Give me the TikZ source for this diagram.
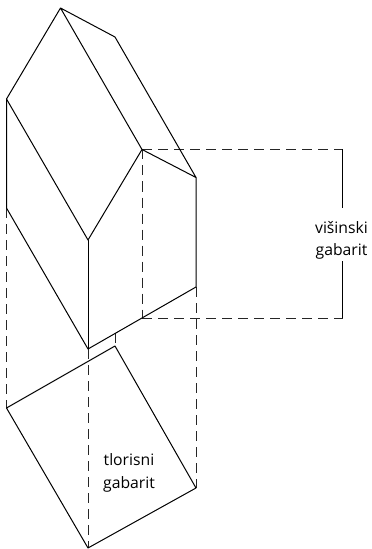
\documentclass[tikz,border=0pt]{standalone}
\usepackage{fontspec}
\setmainfont{Open Sans}
\tikzset{
  solidline/.style={draw=black,line width=1bp,line join=round},
  guide/.style={draw=black!85,line width=0.85bp,dash pattern=on 10bp off 6bp},
  labeltext/.style={align=center,font=\fontsize{15.8}{22.5}\selectfont,inner sep=0pt,text=black}
}
\begin{document}
\begin{tikzpicture}[x=1bp,y=-1bp]
\useasboundingbox (0,0) rectangle (371,549);
\coordinate (A) at (60.5,8);
\coordinate (B) at (115,37);
\coordinate (C) at (6.5,99);
\coordinate (D) at (142,149.5);
\coordinate (E) at (196,177.5);
\coordinate (F) at (88,240);
\coordinate (G) at (6.5,208);
\coordinate (H) at (88,349);
\coordinate (I) at (196,287);
\coordinate (J) at (142,318);
\coordinate (K) at (115,333);
\coordinate (P1) at (6.5,408);
\coordinate (P2) at (115,346);
\coordinate (P3) at (196,488);
\coordinate (P4) at (88,548);
\coordinate (R1) at (342.5,149.5);
\coordinate (R2) at (342.5,208);
\coordinate (R3) at (342.5,261);
\coordinate (R4) at (342.5,318);
% guides
\draw[guide] (G) -- (P1);
\draw[guide] (H) -- (P4);
\draw[guide] (K) -- (P2);
\draw[guide] (I) -- (P3);
\draw[guide] (D) -- (J);
\draw[guide] (D) -- (R1);
\draw[guide] (J) -- (R4);
% house
\draw[solidline] (C) -- (A) -- (B) -- (E) -- (D) -- (A);
\draw[solidline] (C) -- (F) -- (D);
\draw[solidline] (C) -- (G) -- (H) -- (I) -- (E);
\draw[solidline] (F) -- (H);
% plan
\draw[solidline] (P1) -- (P2) -- (P3) -- (P4) -- cycle;
% height bracket
\draw[solidline] (R1) -- (R2);
\draw[solidline] (R3) -- (R4);
\node[labeltext] (hl) at (341.5,240.5) {višinski\\gabarit};
\node[labeltext] (pl) at (129,473) {tlorisni\\gabarit};
\end{tikzpicture}
\end{document}
